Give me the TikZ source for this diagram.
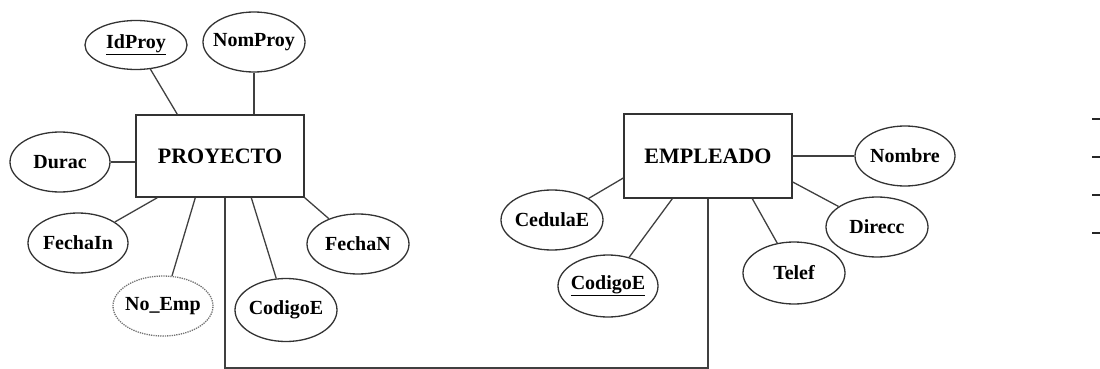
\documentclass[tikz,border=0pt]{standalone}
\usepackage{fontspec}
\setmainfont{Liberation Serif}
\usetikzlibrary{shapes.geometric}

\begin{document}
\begin{tikzpicture}[x=1pt, y=-1pt,
  attrib/.style={ellipse, draw=black!80, line width=1.3pt, inner xsep=-14pt, inner ysep=0pt, minimum width=102, minimum height=60, font=\fontsize{20}{22}\selectfont\bfseries},
  entity/.style={rectangle, draw=black!80, line width=1.4pt, minimum width=168, minimum height=82, font=\fontsize{22}{24}\selectfont\bfseries},
  link/.style={draw=black!75, line width=1.3pt}]
\useasboundingbox (0,0) rectangle (1100,369);
\node[entity] (PROYECTO) at (220,156) {PROYECTO};
\node[entity, minimum height=84] (EMPLEADO) at (708,156) {EMPLEADO};
\node[attrib, minimum height=49] (IdProy) at (136,45) {\underline{IdProy}};
\node[attrib] (NomProy) at (254,42) {NomProy};
\node[attrib, minimum width=100] (Durac) at (60,162) {Durac};
\node[attrib, minimum width=100] (FechaIn) at (78,243) {FechaIn};
\node[attrib, minimum width=100, draw=black!55, densely dotted] (NoEmp) at (163,306) {No\_Emp};
\node[attrib, minimum height=63] (CodigoEP) at (286,310) {CodigoE};
\node[attrib] (FechaN) at (358,244) {FechaN};
\node[attrib] (CedulaE) at (552,220) {CedulaE};
\node[attrib, minimum width=100, minimum height=62] (CodigoEE) at (608,286) {\underline{CodigoE}};
\node[attrib, minimum height=62] (Telef) at (794,273) {Telef};
\node[attrib] (Direcc) at (877,227) {Direcc};
\node[attrib, minimum width=100] (Nombre) at (905,156) {Nombre};
\draw[link] (IdProy) -- ([xshift=42pt]PROYECTO.north west);
\draw[link] (NomProy.south) -- (NomProy.south |- PROYECTO.north);
\draw[link] (Durac) -- (PROYECTO.west |- Durac);
\draw[link] (FechaIn) -- ([xshift=22pt]PROYECTO.south west);
\draw[link] (NoEmp) -- ([xshift=60pt]PROYECTO.south west);
\draw[link] (CodigoEP) -- ([xshift=116pt]PROYECTO.south west);
\draw[link] (FechaN) -- (PROYECTO.south east);
\draw[link] (CedulaE) -- ([yshift=-22pt]EMPLEADO.west);
\draw[link] (CodigoEE) -- ([xshift=49pt]EMPLEADO.south west);
\draw[link] (Telef) -- ([xshift=129pt]EMPLEADO.south west);
\draw[link] (Direcc) -- ([yshift=-26pt]EMPLEADO.east);
\draw[link, line width=2pt] (EMPLEADO.east |- Nombre) -- (Nombre);
% relacion entre las dos entidades
\coordinate (drop) at ([xshift=5pt]PROYECTO.south);
\coordinate (floor) at (0,368);
\draw[link] (drop) -- (drop |- floor) -- (EMPLEADO.south |- floor) -- (EMPLEADO.south);
% marcas del borde derecho
\foreach \y in {119,157,195,233}
  \draw[black!85, line width=2.8pt] (1092,\y) -- (1100,\y);
\end{tikzpicture}
\end{document}
